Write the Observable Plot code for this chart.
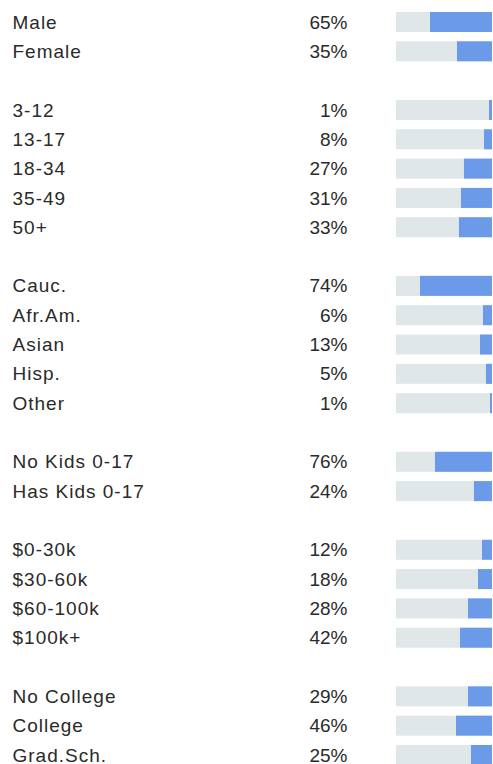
<!DOCTYPE html>
<html>
<head>
<meta charset="utf-8">
<script src="https://cdn.jsdelivr.net/npm/d3@7"></script>
<script src="https://cdn.jsdelivr.net/npm/@observablehq/plot@0.6"></script>
<style>
  html, body { margin: 0; padding: 0; background: #fff; }
  #chart svg { display: block; }
  #chart g.lbl text { letter-spacing: 1px; }
  #chart g.pct text { letter-spacing: 0px; }
</style>
</head>
<body>
<div id="chart"></div>
<script>
// Category labels, displayed percentages, and bar lengths
const genderLabels = ["Male", "Female"];
const genderValues = [65, 35];
const genderBars = [64.6, 36.5];
const ageLabels = ["3-12", "13-17", "18-34", "35-49", "50+"];
const ageValues = [1, 8, 27, 31, 33];
const ageBars = [3.1, 8.3, 29.2, 32.3, 34.4];
const ethnicityLabels = ["Cauc.", "Afr.Am.", "Asian", "Hisp.", "Other"];
const ethnicityValues = [74, 6, 13, 5, 1];
const ethnicityBars = [75, 9.4, 12.5, 6.3, 2.1];
const kidsLabels = ["No Kids 0-17", "Has Kids 0-17"];
const kidsValues = [76, 24];
const kidsBars = [59.4, 18.8];
const incomeLabels = ["$0-30k", "$30-60k", "$60-100k", "$100k+"];
const incomeValues = [12, 18, 28, 42];
const incomeBars = [10.4, 14.6, 25, 33.3];
const educationLabels = ["No College", "College", "Grad.Sch."];
const educationValues = [29, 46, 25];
const educationBars = [25, 37.5, 21.9];

const groups = [
  [genderLabels, genderValues, genderBars],
  [ageLabels, ageValues, ageBars],
  [ethnicityLabels, ethnicityValues, ethnicityBars],
  [kidsLabels, kidsValues, kidsBars],
  [incomeLabels, incomeValues, incomeBars],
  [educationLabels, educationValues, educationBars]
];

const rows = [];
const domain = [];
groups.forEach(([labels, values, bars], g) => {
  if (g > 0) domain.push("gap" + g);
  labels.forEach((label, i) => {
    rows.push({key: label, label, value: values[i], bar: bars[i]});
    domain.push(label);
  });
});

const font = "'Liberation Sans', 'Helvetica Neue', Arial, sans-serif";

const chart = Plot.plot({
  width: 493,
  height: 766,
  marginLeft: 396,
  marginRight: 1,
  marginTop: 12,
  marginBottom: 1,
  style: {fontFamily: font, background: "#fff"},
  x: {domain: [0, 100], reverse: true, axis: null},
  y: {domain, axis: null, paddingInner: 0.318, paddingOuter: 0, round: false},
  marks: [
    Plot.barX(rows, {y: "key", x: 100, fill: "#e0e7e9"}),
    Plot.barX(rows, {y: "key", x: "bar", fill: "#6a9ae8"}),
    Plot.text(rows, {y: "key", text: "label", frameAnchor: "left", dx: -384, textAnchor: "start",
      fontSize: 19, fill: "#2a2a2a", className: "lbl"}),
    Plot.text(rows, {y: "key", text: d => d.value + "%", frameAnchor: "left", dx: -49, textAnchor: "end",
      fontSize: 19, fill: "#2a2a2a", className: "pct"})
  ]
});
document.getElementById("chart").append(chart);
</script>
</body>
</html>
